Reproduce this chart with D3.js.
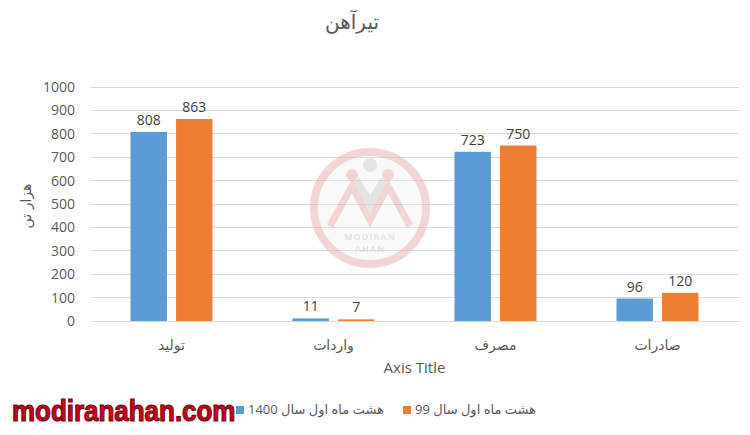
<!DOCTYPE html>
<html><head><meta charset="utf-8">
<script src="https://cdn.jsdelivr.net/npm/d3@7"></script>
<style>body{margin:0;background:#fff}svg{display:block;font-family:"Open Sans","Liberation Sans","DejaVu Sans",sans-serif}</style>
</head><body><svg id="c" width="750" height="435"></svg>
<script>
const categories = ["تولید","واردات","مصرف","صادرات"];
const seriesNames = ["هشت ماه اول سال 1400","هشت ماه اول سال 99"];
const series1400 = [808, 11, 723, 96];
const series99 = [863, 7, 750, 120];
const yTicks = [0,100,200,300,400,500,600,700,800,900,1000];
const colors = ["#5b9bd5","#ed7d31"];
const title = "تیرآهن";
const yTitle = "هزار تن";
const xTitle = "Axis Title";
const watermark = "modiranahan.com";

const svg = d3.select("#c");
const AR = "'DejaVu Sans',sans-serif";
const L = 90.5, R = 738.5, T = 87, B = 321;
const x0 = d3.scaleBand().domain(categories).range([L, R]);
const x1 = d3.scaleBand().domain([0,1]).range([x0.bandwidth()/2-41, x0.bandwidth()/2+41]).paddingInner(0.2);
const y = d3.scaleLinear().domain([0,1000]).range([B, T]);

// gridlines
svg.append("g").selectAll("line").data(yTicks).join("line")
  .attr("x1", L).attr("x2", R).attr("y1", d=>y(d)).attr("y2", d=>y(d))
  .attr("stroke", "#d9d9d9").attr("stroke-width", 1).attr("shape-rendering","crispEdges");

// watermark logo
const lg = svg.append("g").attr("transform","translate(370,208)").attr("opacity",0.55);
lg.append("circle").attr("r",56).attr("fill","#ececec").attr("opacity",0.5);
lg.append("circle").attr("r",56).attr("fill","none").attr("stroke","#e8b4b4").attr("stroke-width",8);
lg.append("circle").attr("cx",0).attr("cy",-43).attr("r",7).attr("fill","#cfcfcf");
lg.append("path").attr("d","M-14,-28 L0,-5 L14,-28").attr("fill","none").attr("stroke","#cfcfcf").attr("stroke-width",8);
lg.append("circle").attr("cx",-18).attr("cy",-33).attr("r",6).attr("fill","#e8b4b4");
lg.append("circle").attr("cx",18).attr("cy",-33).attr("r",6).attr("fill","#e8b4b4");
lg.append("path").attr("d","M-40,18 L-18,-22 L0,12 L18,-22 L40,18").attr("fill","none").attr("stroke","#e8b4b4").attr("stroke-width",7);
lg.append("text").attr("y",32).attr("text-anchor","middle").attr("font-size",9).attr("font-weight","bold").attr("fill","#cfcfcf").attr("letter-spacing",1).text("MODIRAN");
lg.append("text").attr("y",44).attr("text-anchor","middle").attr("font-size",9).attr("font-weight","bold").attr("fill","#cfcfcf").attr("letter-spacing",1).text("AHAN");

// bars
const rows = categories.map((c,i)=>({c, v:[series1400[i], series99[i]]}));
const g = svg.append("g").selectAll("g").data(rows).join("g")
  .attr("transform", d=>`translate(${x0(d.c)},0)`);
g.selectAll("rect").data(d=>d.v.map((v,k)=>({v,k}))).join("rect")
  .attr("x", d=>x1(d.k)).attr("width", x1.bandwidth())
  .attr("y", d=>y(d.v)).attr("height", d=>B - y(d.v)).attr("fill", d=>colors[d.k]);
g.selectAll("text").data(d=>d.v.map((v,k)=>({v,k}))).join("text")
  .attr("x", d=>x1(d.k)+x1.bandwidth()/2).attr("y", d=>y(d.v)-7)
  .attr("text-anchor","middle").attr("font-size",14).attr("fill","#404040").text(d=>d.v);

// x axis baseline
svg.append("line").attr("x1",L).attr("x2",R).attr("y1",B).attr("y2",B).attr("stroke","#d9d9d9").attr("shape-rendering","crispEdges");

// y tick labels
svg.append("g").selectAll("text").data(yTicks).join("text")
  .attr("x", 75).attr("y", d=>y(d)+5).attr("text-anchor","end")
  .attr("font-size",14).attr("fill","#595959").text(d=>d);

// x labels
svg.append("g").selectAll("text").data(categories).join("text")
  .attr("x", d=>x0(d)+x0.bandwidth()/2).attr("y", 350).attr("text-anchor","middle")
  .attr("font-size",14).attr("fill","#595959").style("font-family",AR).text(d=>d);

// titles
svg.append("text").attr("x",352).attr("y",29).attr("text-anchor","middle").attr("font-size",20).attr("fill","#595959").style("font-family",AR).text(title);
svg.append("text").attr("x",(L+R)/2).attr("y",373).attr("text-anchor","middle").attr("font-size",15).attr("fill","#595959").text(xTitle);
svg.append("text").attr("transform","translate(31,206) rotate(-90)").attr("text-anchor","middle").attr("font-size",14).attr("fill","#595959").style("font-family",AR).text(yTitle);

// legend
const legX = [236, 403];
const lgd = svg.append("g").selectAll("g").data(seriesNames).join("g").attr("transform",(d,i)=>`translate(${legX[i]},406)`);
lgd.append("rect").attr("width",8).attr("height",8).attr("fill",(d,i)=>colors[i]);
lgd.append("text").attr("x",12).attr("y",8).attr("font-size",13).attr("fill","#595959").style("font-family","'Open Sans','DejaVu Sans',sans-serif").text(d=>d);

// site watermark
svg.append("text").attr("transform","translate(12,421) scale(0.88,1)").attr("font-size",29.5).attr("font-weight","bold")
  .style("font-family","'Liberation Sans',Arial,sans-serif")
  .attr("fill","#d0021b").attr("stroke","#7a0010").attr("stroke-width",1.2).text(watermark);
</script></body></html>
